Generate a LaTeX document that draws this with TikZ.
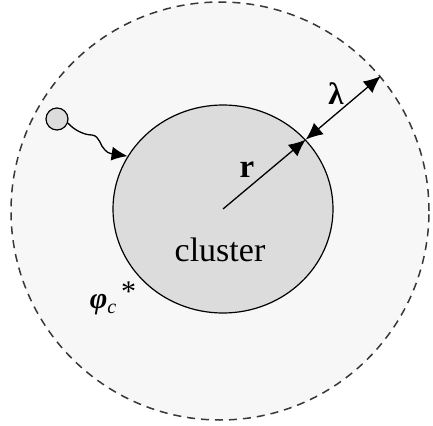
\documentclass[tikz,border=0pt]{standalone}
\usepackage{fontspec}
\setmainfont{Liberation Serif}
\usetikzlibrary{arrows.meta,shapes.geometric}
\definecolor{clustergray}{HTML}{DCDCDC}
\definecolor{shellgray}{HTML}{F7F7F7}
\definecolor{dashgray}{HTML}{383838}

\begin{document}
\begin{tikzpicture}[x=1pt,y=-1pt, line width=1.3pt]
\useasboundingbox (0,0) rectangle (433,425);
% depletion shell and cluster
\node[circle, draw=dashgray, fill=shellgray, dashed, dash pattern=on 8pt off 6pt, line width=1.5pt, minimum size=418pt, inner sep=0pt] (shell) at (220,211) {};
\node[ellipse, draw, fill=clustergray, line width=1.2pt, minimum width=220pt, minimum height=208pt, inner sep=0pt] (cl) at (223,209) {};
\node[circle, draw, fill=clustergray, line width=1.2pt, minimum size=22pt, inner sep=0pt] (p) at (57,119) {};
\node (lab) at (220,250) {\fontsize{34}{38}\selectfont cluster};
\node (rlab) at (247,170) {\fontsize{33}{36}\selectfont\textbf{r}};
\node (llab) at (336,94) {\fontsize{31}{34}\selectfont\textbf{λ}};
\node (phi) at (113,298) {\fontsize{30}{34}\selectfont\textbf{\textit{φ}}\raisebox{-5pt}{\fontsize{20}{22}\selectfont\textit{c}}\,\raisebox{7pt}{*}};
% arrows
\draw[-{Latex[length=17pt,width=15pt]}] (cl.center) -- (cl.40);
\draw[{Latex[length=17pt,width=15pt]}-{Latex[length=17pt,width=15pt]}] (cl.40) -- (shell.40);
\draw[-{Latex[length=16pt,width=14pt]}] (p.-20) .. controls (74,130) and (84,135) .. (92,135) .. controls (100,136) and (100,146) .. (105,150) .. controls (108,154) and (114,154) .. (cl.151);
\end{tikzpicture}
\end{document}
